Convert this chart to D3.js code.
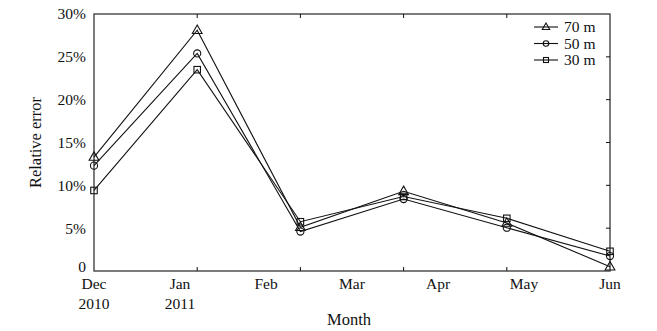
<!DOCTYPE html>
<html>
<head>
<meta charset="utf-8">
<script src="https://cdn.jsdelivr.net/npm/d3@7/dist/d3.min.js"></script>
<style>
  html, body { margin: 0; padding: 0; background: #fff; }
  svg { display: block; font-family: "Liberation Serif", "Times New Roman", serif; }
</style>
</head>
<body>
<svg id="chart" width="657" height="331"></svg>
<script>
// Month labels along the bottom axis (first two carry a year line)
const monthLabels = ["Dec", "Jan", "Feb", "Mar", "Apr", "May", "Jun"];
const yearLabels = ["2010", "2011", "", "", "", "", ""];

// Observation index (six samples) and relative error in percent per height
const sampleIndex = [0, 1, 2, 3, 4, 5];
const err70 = [13.3, 28.1, 5.1, 9.3, 5.6, 0.5];
const err50 = [12.3, 25.4, 4.6, 8.4, 5.05, 1.75];
const err30 = [9.4, 23.5, 5.75, 8.7, 6.15, 2.3];

const yTicks = [0, 5, 10, 15, 20, 25, 30];
const seriesNames = ["70 m", "50 m", "30 m"];
const seriesShapes = ["triangle", "circle", "square"];
const seriesValues = [err70, err50, err30];

const svg = d3.select("#chart");
const m = { left: 94, right: 47, top: 14, bottom: 60 };
const W = 657, H = 331;
const x0 = m.left, x1 = W - m.right, y0 = H - m.bottom, y1 = m.top;

const x = d3.scaleLinear().domain([0, 5]).range([x0, x1]);
const xLab = d3.scaleLinear().domain([0, monthLabels.length - 1]).range([x0, x1]);
const y = d3.scaleLinear().domain([0, 30]).range([y0, y1]);

const ink = "#111";
const frame = "#444";
const serif = "'Liberation Serif', 'Times New Roman', serif";

// Frame
svg.append("rect")
  .attr("x", x0).attr("y", y1).attr("width", x1 - x0).attr("height", y0 - y1)
  .attr("fill", "none").attr("stroke", frame).attr("stroke-width", 1.4);

// Left axis (labels) and inward ticks on the right
const gL = svg.append("g").attr("transform", `translate(${x0},0)`)
  .call(d3.axisLeft(y).tickValues(yTicks).tickSize(0).tickPadding(8)
    .tickFormat(d => d === 0 ? "0" : d + "%"));
gL.select(".domain").remove();
gL.selectAll("text").attr("font-size", 15.5).attr("fill", ink)
  .attr("font-family", serif)
  .attr("dy", d => d === 0 ? "0.05em" : "0.32em");

svg.append("g").selectAll("line").data(yTicks.slice(1, -1)).join("line")
  .attr("x1", x1).attr("x2", x1 - 4)
  .attr("y1", d => y(d)).attr("y2", d => y(d))
  .attr("stroke", ink).attr("stroke-width", 1);

// Inward ticks at sample positions on bottom and top
const inner = sampleIndex.slice(1, -1);
svg.append("g").selectAll("line").data(inner).join("line")
  .attr("x1", d => x(d)).attr("x2", d => x(d))
  .attr("y1", y0).attr("y2", y0 - 4)
  .attr("stroke", ink).attr("stroke-width", 1);
svg.append("g").selectAll("line").data(inner).join("line")
  .attr("x1", d => x(d)).attr("x2", d => x(d))
  .attr("y1", y1).attr("y2", y1 + 4)
  .attr("stroke", ink).attr("stroke-width", 1);

// Month labels
const gB = svg.append("g").attr("font-family", serif);
gB.selectAll("text.m").data(monthLabels).join("text")
  .attr("class", "m")
  .attr("x", (d, i) => xLab(i)).attr("y", y0 + 18)
  .attr("text-anchor", "middle").attr("font-size", 15.5).attr("fill", ink)
  .text(d => d);
gB.selectAll("text.yr").data(yearLabels).join("text")
  .attr("class", "yr")
  .attr("x", (d, i) => xLab(i)).attr("y", y0 + 38)
  .attr("text-anchor", "middle").attr("font-size", 15.5).attr("fill", ink)
  .text(d => d);

// Axis titles
svg.append("text")
  .attr("x", (x0 + x1) / 2 - 3).attr("y", H - 6)
  .attr("text-anchor", "middle").attr("font-size", 16.5).attr("fill", ink)
  .attr("font-family", serif)
  .text("Month");
svg.append("text")
  .attr("transform", `translate(41,${(y0 + y1) / 2}) rotate(-90)`)
  .attr("text-anchor", "middle").attr("font-size", 16.5).attr("fill", ink)
  .attr("font-family", serif)
  .text("Relative error");

// Marker shapes
function marker(g, shape, cx, cy, s) {
  if (shape === "triangle") {
    g.append("path")
      .attr("d", `M${cx},${cy - s * 0.8}L${cx + s * 0.75},${cy + s * 0.5}L${cx - s * 0.75},${cy + s * 0.5}Z`)
      .attr("fill", "none").attr("stroke", ink).attr("stroke-width", 1.1);
  } else if (shape === "circle") {
    g.append("circle").attr("cx", cx).attr("cy", cy).attr("r", s * 0.55)
      .attr("fill", "none").attr("stroke", ink).attr("stroke-width", 1.1);
  } else {
    g.append("rect").attr("x", cx - s * 0.5).attr("y", cy - s * 0.5)
      .attr("width", s).attr("height", s)
      .attr("fill", "none").attr("stroke", ink).attr("stroke-width", 1.1);
  }
}

// Series lines and markers
const line = d3.line().x(d => x(d[0])).y(d => y(d[1]));
seriesValues.forEach((vals, k) => {
  const pts = sampleIndex.map((i, j) => [i, vals[j]]);
  svg.append("path").datum(pts)
    .attr("d", line).attr("fill", "none")
    .attr("stroke", ink).attr("stroke-width", 1.1);
  const g = svg.append("g");
  pts.forEach(p => marker(g, seriesShapes[k], x(p[0]), y(p[1]), 6.5));
});

// Legend
const lg = svg.append("g").attr("font-family", serif);
seriesNames.forEach((name, k) => {
  const ly = 27 + k * 16.5;
  lg.append("line").attr("x1", 534).attr("x2", 558).attr("y1", ly).attr("y2", ly)
    .attr("stroke", ink).attr("stroke-width", 1.1);
  marker(lg, seriesShapes[k], 546, ly, 5);
  lg.append("text").attr("x", 564).attr("y", ly + 5)
    .attr("font-size", 15.5).attr("fill", ink).text(name);
});
</script>
</body>
</html>
